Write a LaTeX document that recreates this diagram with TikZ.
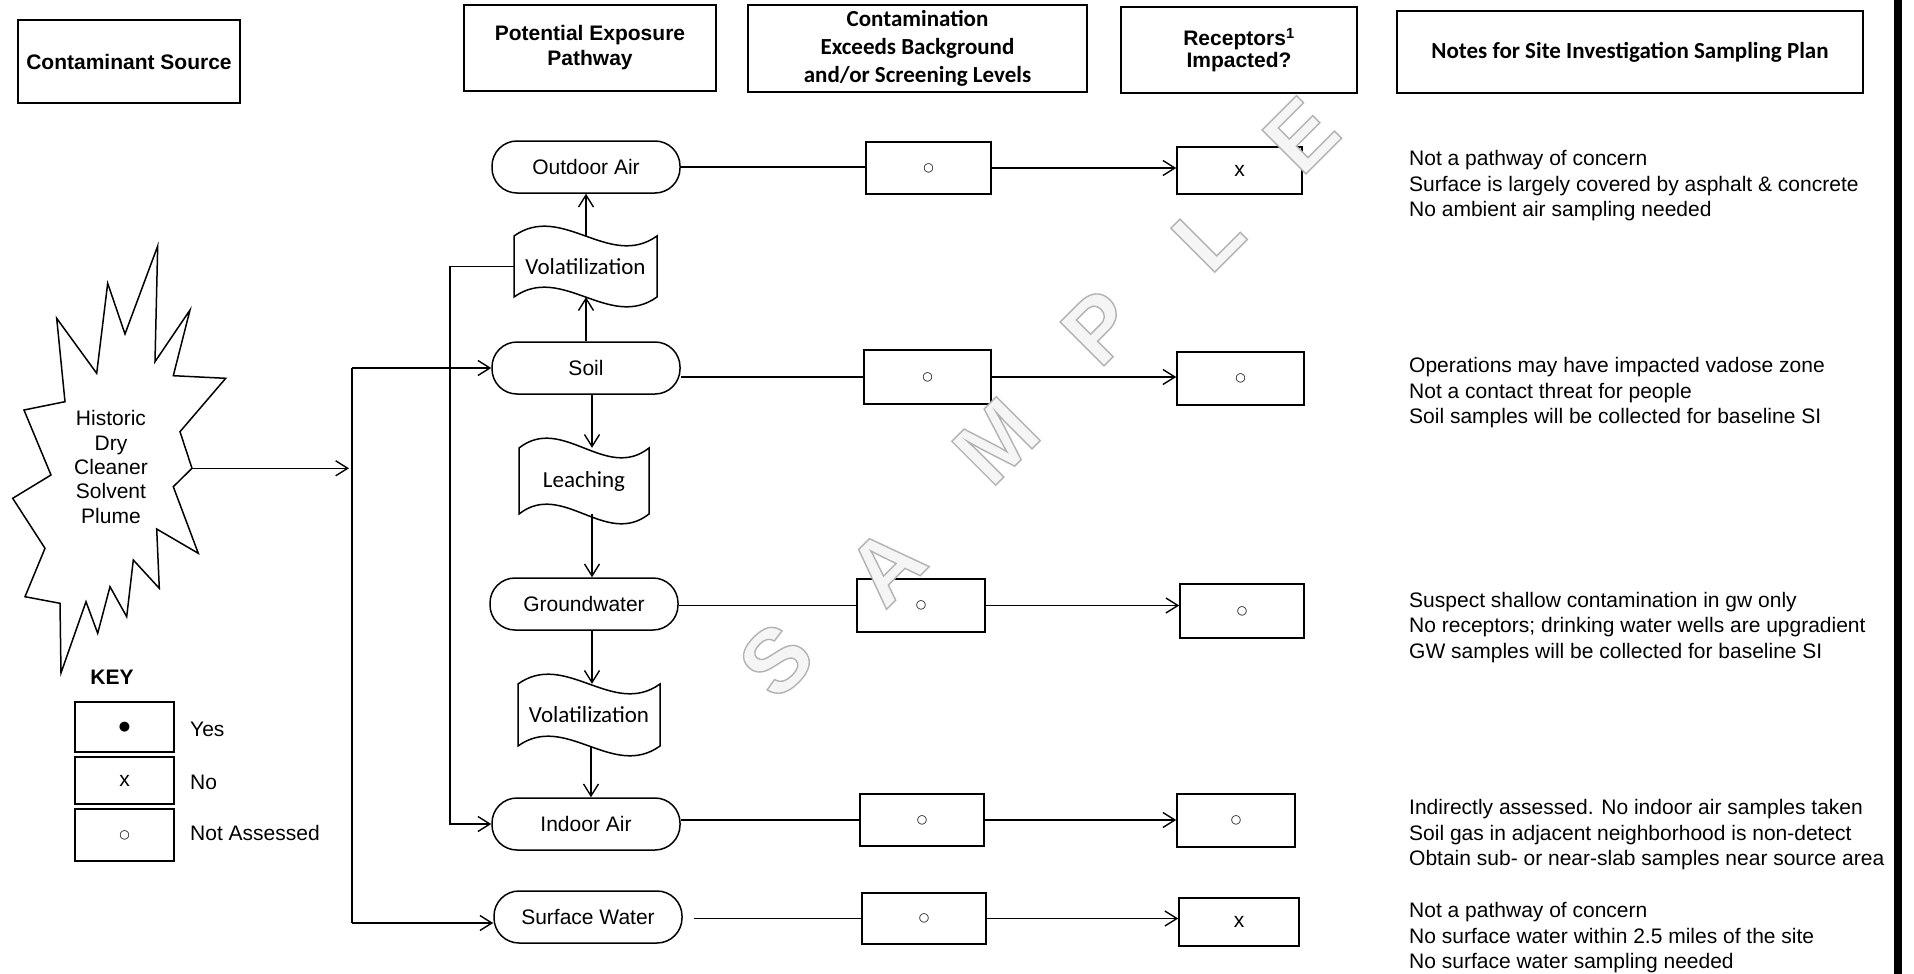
\documentclass[tikz,border=0pt]{standalone}
\usepackage{fontspec}
\setmainfont{Liberation Sans}
\newfontfamily\calib{Carlito}
\newfontfamily\dejavu{DejaVu Sans}
\usetikzlibrary{arrows.meta,calc}
\newcommand\nasym{{\dejavu\fontsize{12}{12}\selectfont ○}}
\newcommand\yessym{{\dejavu\fontsize{13}{13}\selectfont ●}}
\newcommand\outl[1]{\special{pdf:code q 2 Tr 1.4 w 0.7 G 0.96 g}#1\special{pdf:code Q}}
\begin{document}
\begin{tikzpicture}[x=1pt,y=-1pt,
  >={Straight Barb[length=12pt,width=15pt]},
  hdr/.style={draw,line width=1.6pt,inner sep=0pt,align=center,font=\fontsize{21}{25}\selectfont\bfseries},
  pathn/.style={draw,line width=1.5pt,rounded corners=25pt,minimum width=188pt,minimum height=52pt,inner sep=0pt,font=\fontsize{21}{25}\selectfont},
  vbox/.style={draw,line width=1.6pt,inner sep=0pt,font=\fontsize{21}{25}\selectfont},
  tapetxt/.style={inner sep=0pt,font=\calib\fontsize{23}{27}\selectfont},
  tapeline/.style={line width=1.5pt},
  conn/.style={line width=1.4pt},
  note/.style={anchor=west,align=left,inner sep=0pt,font=\fontsize{21}{25.5}\selectfont},
  keylbl/.style={anchor=west,inner sep=0pt,font=\fontsize{21}{25}\selectfont},
  wm/.style={rotate=45,inner sep=0pt,text=gray!6,font=\fontsize{90}{90}\selectfont\bfseries},
]
\useasboundingbox (0,0) rectangle (1914,974);
\fill[white] (0,0) rectangle (1914,974);
\fill[black] (1894,0) rectangle (1902,974);

% headers
\node[hdr,minimum width=222pt,minimum height=83pt] (hsrc) at (129,61.5) {Contaminant Source};
\node[hdr,minimum width=252pt,minimum height=86pt] (hpath) at (590,48) {Potential Exposure\\Pathway};
\node[hdr,minimum width=339pt,minimum height=87pt,font=\calib\fontsize{23}{28}\selectfont\bfseries] (hcont) at (917.5,48.5) {Contamination\\Exceeds Background\\and/or Screening Levels};
\node[hdr,minimum width=236pt,minimum height=86pt,font=\fontsize{21}{22}\selectfont\bfseries] (hrec) at (1239,50) {Receptors\textsuperscript{1}\\Impacted?};
\node[hdr,minimum width=466pt,minimum height=82pt,font=\calib\fontsize{23}{28}\selectfont\bfseries] (hnotes) at (1630,52) {Notes for Site Investigation Sampling Plan};

% source starburst
\draw[line width=1.5pt] (157.7,246) -- (125,334) -- (107.7,283.3) -- (96.7,373.3) -- (56.7,318.3) -- (65,401.7) -- (24,410) -- (51,475) -- (12.7,498.3) -- (45,548.3) -- (25,596.7) -- (60,603.3) -- (61,673) -- (86,601.7) -- (97.7,633.3) -- (110,586.7) -- (126.7,616.7) -- (133.3,560) -- (159.3,588.3) -- (156.7,529) -- (198.3,553.3) -- (173.3,486.7) -- (192,468.3) -- (180,431.7) -- (225.7,378.3) -- (173.3,375.7) -- (190,310) -- (155,361.7) -- cycle;
\node[align=center,inner sep=0pt,font=\fontsize{21}{24.3}\selectfont] (plume) at (111,467) {Historic\\Dry\\Cleaner\\Solvent\\Plume};
\coordinate (srcTip) at (192,468.3);

% pathway nodes
\node[pathn] (outdoor) at (586,167) {Outdoor Air};
\node[pathn] (soil) at (586,368) {Soil};
\node[pathn] (gw) at (584,604) {Groundwater};
\node[pathn] (indoor) at (586,824) {Indoor Air};
\node[pathn] (surf) at (588,917) {Surface Water};

% tapes
\node[tapetxt,minimum width=143pt,minimum height=61pt] (vol1) at (585.5,266.5) {Volatilization};
\draw[tapeline] (514,236) .. controls (561.7,202) and (609.3,270) .. (657,236) -- (657,297) .. controls (609.3,331) and (561.7,263) .. (514,297) -- cycle;
\node[tapetxt,minimum width=130pt,minimum height=66pt] (leach) at (584,481) {Leaching};
\draw[tapeline] (519,448) .. controls (562.3,414) and (605.7,482) .. (649,448) -- (649,514) .. controls (605.7,548) and (562.3,480) .. (519,514) -- cycle;
\node[tapetxt,minimum width=142pt,minimum height=62pt] (vol2) at (589,715) {Volatilization};
\draw[tapeline] (518,684) .. controls (565.3,650) and (612.7,718) .. (660,684) -- (660,746) .. controls (612.7,780) and (565.3,712) .. (518,746) -- cycle;

% contamination boxes
\node[vbox,minimum width=125pt,minimum height=52pt] (c1) at (928.5,168) {\nasym};
\node[vbox,minimum width=127pt,minimum height=54pt] (c2) at (927.5,377) {\nasym};
\node[vbox,minimum width=128pt,minimum height=53pt] (c3) at (921,605.5) {\nasym};
\node[vbox,minimum width=124pt,minimum height=52pt] (c4) at (922,820) {\nasym};
\node[vbox,minimum width=124pt,minimum height=51pt] (c5) at (924,918.5) {\nasym};
% receptor boxes
\node[vbox,minimum width=125pt,minimum height=47pt] (r1) at (1239.5,170.5) {x};
\node[vbox,minimum width=127pt,minimum height=53pt] (r2) at (1240.5,378.5) {\nasym};
\node[vbox,minimum width=124pt,minimum height=54pt] (r3) at (1242,611) {\nasym};
\node[vbox,minimum width=118pt,minimum height=53pt] (r4) at (1236,820.5) {\nasym};
\node[vbox,minimum width=120pt,minimum height=48pt] (r5) at (1239,922) {x};

% source connectors
\coordinate (busIn) at (349,468.3);
\coordinate (busTop) at (352,368);
\coordinate (busBot) at (352,923);
\draw[conn,->] (srcTip) -- (busIn);
\draw[conn] (busTop) -- (busBot);
\draw[conn,->] (busTop) -- (soil.west);
\draw[conn,->] (busBot) -- (busBot -| surf.west);
\draw[conn,->] (vol1.west) -- ++(-64,0) |- (indoor.west);

% vertical flows
\draw[conn,->] (soil.north) -- (soil.north |- vol1.south);
\draw[conn,->] (vol1.north -| outdoor.south) -- (outdoor.south);
\draw[conn,->] ([xshift=6pt]soil.south) -- ([xshift=6pt]soil.south |- leach.north);
\draw[conn,->] ([xshift=8pt]leach.south) -- ([xshift=8pt]leach.south |- gw.north);
\draw[conn,->] ([xshift=8pt]gw.south) -- ([xshift=8pt]gw.south |- vol2.north);
\draw[conn,->] ([xshift=2pt]vol2.south) -- ([xshift=2pt]vol2.south |- indoor.north);

% rows
\draw[conn] (outdoor.east) -- (outdoor.east -| c1.west);
\draw[conn,->] (c1.east) -- (c1.east -| r1.west);
\draw[conn] (soil.east |- c2.west) -- (c2.west);
\draw[conn,->] (c2.east) -- (c2.east -| r2.west);
\draw[conn] (gw.east |- c3.west) -- (c3.west);
\draw[conn,->] (c3.east) -- (c3.east -| r3.west);
\draw[conn] (indoor.east |- c4.west) -- (c4.west);
\draw[conn,->] (c4.east) -- (c4.east -| r4.west);
\draw[conn] ($(surf.east |- c5.west)+(11,0)$) -- (c5.west);
\draw[conn,->] (c5.east) -- (c5.east -| r5.west);

% notes
\node[note] (n1) at (1409,186) {Not a pathway of concern\\Surface is largely covered by asphalt \& concrete\\No ambient air sampling needed};
\node[note] (n2) at (1409,393) {Operations may have impacted vadose zone\\Not a contact threat for people\\Soil samples will be collected for baseline SI};
\node[note] (n3) at (1409,627.5) {Suspect shallow contamination in gw only\\No receptors; drinking water wells are upgradient\\GW samples will be collected for baseline SI};
\node[note] (n4) at (1409,835) {Indirectly assessed. No indoor air samples taken\\Soil gas in adjacent neighborhood is non-detect\\Obtain sub- or near-slab samples near source area};
\node[note] (n5) at (1409,938) {Not a pathway of concern\\No surface water within 2.5 miles of the site\\No surface water sampling needed};

% key
\node[inner sep=0pt,font=\fontsize{21}{25}\selectfont\bfseries] (key) at (112,677) {KEY};
\node[vbox,minimum width=99pt,minimum height=50pt] (kyes) at (124.5,727) {\yessym};
\node[vbox,minimum width=99pt,minimum height=47pt] (kno) at (124.5,780.5) {x};
\node[vbox,minimum width=99pt,minimum height=52pt] (kna) at (124.5,835) {\nasym};
\node[keylbl] (lyes) at (190,729) {Yes};
\node[keylbl] (lno) at (190,782) {No};
\node[keylbl] (lna) at (190,833) {Not Assessed};

% watermark
\foreach \ch/\px/\py in {S/776/660, A/886/566, M/996/441, P/1099/327, L/1208/235, E/1301/135} {
  \node[wm] (w\ch) at (\px,\py) {\outl{\ch}};
}
\end{tikzpicture}
\end{document}
